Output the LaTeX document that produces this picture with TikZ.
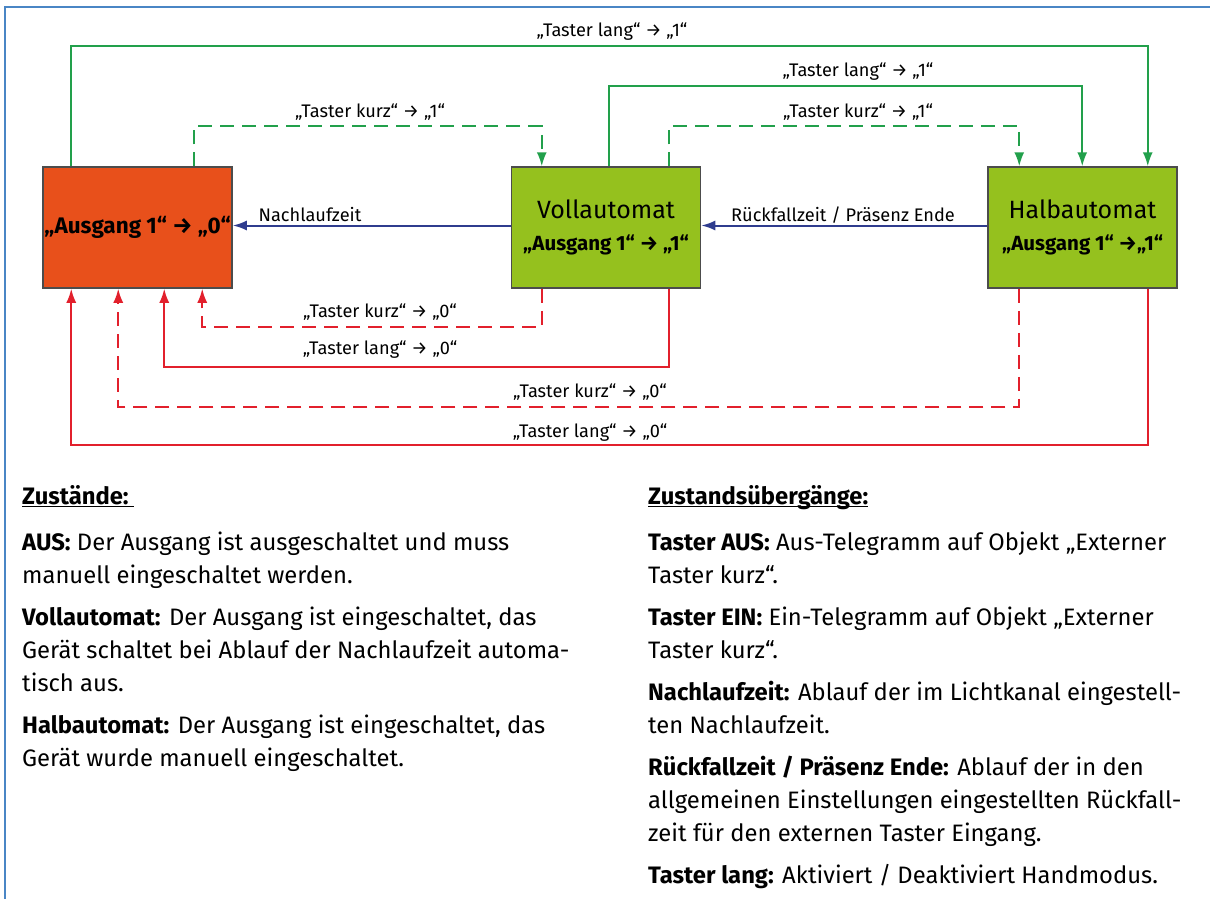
\documentclass[tikz,border=0pt]{standalone}
\usepackage{fontspec}
\setmainfont{Fira Sans}
\usetikzlibrary{arrows.meta,positioning,calc}

\definecolor{ausred}{HTML}{E8501B}
\definecolor{autogreen}{HTML}{95C11E}
\definecolor{linegreen}{HTML}{22A04B}
\definecolor{linered}{HTML}{E2202C}
\definecolor{lineblue}{HTML}{2F3C8E}
\definecolor{framebl}{HTML}{4A86C5}

\newcommand{\headline}[1]{\setbox0\hbox{#1}\rlap{\rule[-3pt]{\wd0}{1.3pt}}\box0}

\tikzset{
	state/.style={draw=black!70, line width=1.5pt, minimum width=189pt, minimum height=121pt, inner sep=0pt, align=center},
	tip/.style={-{Latex[length=14pt,width=10pt]}},
	einlang/.style={linegreen, line width=1.8pt, tip},
	einkurz/.style={einlang, dash pattern=on 14pt off 8pt},
	auslang/.style={linered, line width=1.8pt, tip},
	auskurz/.style={auslang, dash pattern=on 14pt off 8pt},
	ablauf/.style={lineblue, line width=2pt, tip},
	lbl/.style={font=\fontsize{18.2}{20}\selectfont, inner sep=1pt},
	para/.style={anchor=north west, align=left, inner sep=0pt, font=\fontsize{23.8}{33}\selectfont},
}

\begin{document}
\begin{tikzpicture}[x=1pt, y=-1pt]
		\useasboundingbox (0,0) rectangle (1210,899);
		% Frame
		\draw[framebl, line width=1.5pt] (1210,7) -- (5,7) -- (5,899);

		% States
		\node[state, fill=ausred, font=\bfseries\fontsize{22.5}{24}\selectfont] (aus) at (137.5,227.5) {„Ausgang 1“ → „0“};
		\node[state, fill=autogreen] (voll) at (606,227.5) {{\fontsize{25}{28}\selectfont Vollautomat}\\[15pt]{\bfseries\fontsize{20.5}{22}\selectfont „Ausgang 1“ → „1“}};
		\node[state, fill=autogreen] (halb) at (1082.5,227.5) {{\fontsize{25}{28}\selectfont Halbautomat}\\[15pt]{\bfseries\fontsize{20.5}{22}\selectfont „Ausgang 1“ →„1“}};

		% Switching on
		\draw[einlang] ([xshift=29pt]aus.north west) -- ++(0,-120) -| ([xshift=-30pt]halb.north east);
		\draw[einkurz] ([xshift=152pt]aus.north west) -- ++(0,-40) -| ([xshift=31pt]voll.north west);
		\draw[einlang] ([xshift=98pt]voll.north west) -- ++(0,-80) -| ([xshift=95pt]halb.north west);
		\draw[einkurz] ([xshift=158pt]voll.north west) -- ++(0,-40) -| ([xshift=32pt]halb.north west);

		% Timeouts
		\draw[ablauf] ([yshift=2pt]voll.west) -- ([yshift=2pt]aus.east);
		\draw[ablauf] ([yshift=2pt]halb.west) -- ([yshift=2pt]voll.east);

		% Switching off
		\draw[auskurz] ([xshift=31pt]voll.south west) -- ++(0,38) -| ([xshift=160pt]aus.south west);
		\draw[auslang] ([xshift=158pt]voll.south west) -- ++(0,78) -| ([xshift=122pt]aus.south west);
		\draw[auskurz] ([xshift=32pt]halb.south west) -- ++(0,118) -| ([xshift=76pt]aus.south west);
		\draw[auslang] ([xshift=-30pt]halb.south east) -- ++(0,156) -| ([xshift=29pt]aus.south west);

		% Labels
		\node[lbl] (langAH) at (612,32) {„Taster lang“ → „1“};
		\node[lbl] (langVH) at (858,72) {„Taster lang“ → „1“};
		\node[lbl] (kurzVH) at (858,112) {„Taster kurz“ → „1“};
		\node[lbl] (kurzAV) at (370,112) {„Taster kurz“ → „1“};
		\node[lbl] (nachlauf) at (310,215) {Nachlaufzeit};
		\node[lbl] (rueckfall) at (843,215) {Rückfallzeit / Präsenz Ende};
		\node[lbl] (kurzVA) at (380,312) {„Taster kurz“ → „0“};
		\node[lbl] (langVA) at (380,350) {„Taster lang“ → „0“};
		\node[lbl] (kurzHA) at (590,392) {„Taster kurz“ → „0“};
		\node[lbl] (langHA) at (590,433) {„Taster lang“ → „0“};

		% Legend
		\node[para] (zustaende) at (22,481) {\strut\textbf{\headline{Zustände:\ }}\\[13pt]
			\textbf{AUS:} Der Ausgang ist ausgeschaltet und muss\\
			manuell eingeschaltet werden.\\[9pt]
			\textbf{Vollautomat:} Der Ausgang ist eingeschaltet, das\\
			Gerät schaltet bei Ablauf der Nachlaufzeit automa-\\
			tisch aus.\\[9pt]
			\textbf{Halbautomat:} Der Ausgang ist eingeschaltet, das\\
			Gerät wurde manuell eingeschaltet.};
		\node[para] (uebergaenge) at (648,481) {\strut\textbf{\headline{Zustandsübergänge:}}\\[13pt]
			\textbf{Taster AUS:} Aus-Telegramm auf Objekt „Externer\\
			Taster kurz“.\\[9pt]
			\textbf{Taster EIN:} Ein-Telegramm auf Objekt „Externer\\
			Taster kurz“.\\[9pt]
			\textbf{Nachlaufzeit:} Ablauf der im Lichtkanal eingestell-\\
			ten Nachlaufzeit.\\[9pt]
			\textbf{Rückfallzeit / Präsenz Ende:} Ablauf der in den\\
			allgemeinen Einstellungen eingestellten Rückfall-\\
			zeit für den externen Taster Eingang.\\[9pt]
			\textbf{Taster lang:} Aktiviert / Deaktiviert Handmodus.};
	\end{tikzpicture}
\end{document}
